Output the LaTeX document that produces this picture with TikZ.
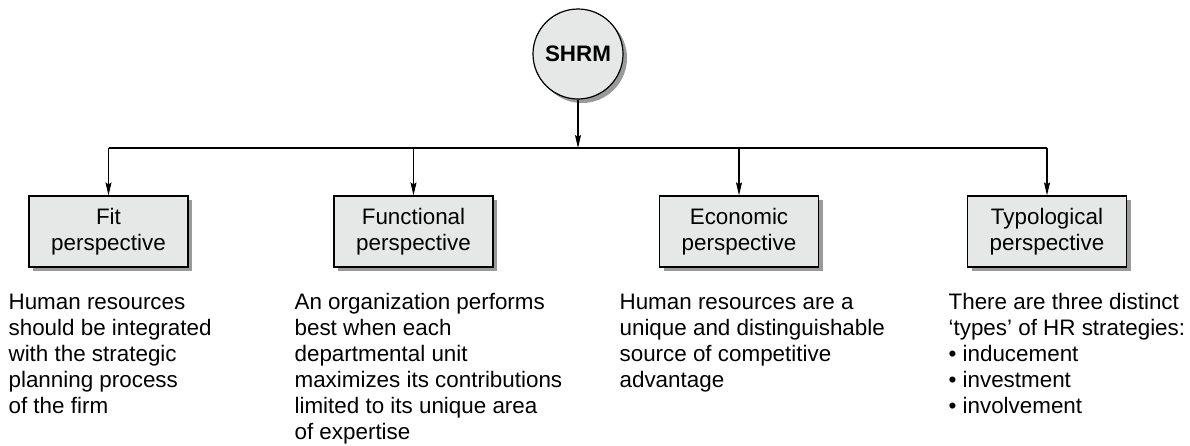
\documentclass[tikz,border=0pt]{standalone}
\usepackage{fontspec}
\setmainfont{Liberation Sans}
\usetikzlibrary{arrows.meta,shadows}
\definecolor{boxgray}{HTML}{E6E7E7}
\definecolor{shadowgray}{HTML}{9A9A9A}

\begin{document}
\begin{tikzpicture}
         [x=1pt,y=-1pt,line width=1.2pt,
          every node/.style={font=\fontsize{22.4}{26}\selectfont},
          shadowed/.style={drop shadow={shadow xshift=4pt,shadow yshift=-4pt,fill=shadowgray,opacity=1}},
          perspective/.style={draw,fill=boxgray,shadowed,minimum width=159pt,minimum height=71pt,align=center,inner sep=0pt},
          hub/.style={circle,draw,fill=boxgray,shadowed,minimum size=90pt,inner sep=0pt,font=\fontsize{22.4}{26}\selectfont\bfseries},
          note/.style={anchor=north west,align=left,inner sep=0pt},
          link/.style={-{Stealth[length=13pt,width=6pt,inset=2pt]}}]
         \useasboundingbox (0,0) rectangle (1190,445);

         \node[hub] (nSHRM) at (578,54) {SHRM};
         \coordinate (cBar) at (578,148);

         \node[perspective] (nFit) at (108.5,231.5) {Fit\\perspective};
         \node[perspective] (nFunctional) at (413.5,231.5) {Functional\\perspective};
         \node[perspective] (nEconomic) at (739,231.5) {Economic\\perspective};
         \node[perspective] (nTypological) at (1047,231.5) {Typological\\perspective};

         \node[note] (tFit) at (8,293) {Human resources\\should be integrated\\with the strategic\\planning process\\of the firm};
         \node[note] (tFunctional) at (294,293) {An organization performs\\best when each\\departmental unit\\maximizes its contributions\\limited to its unique area\\of expertise};
         \node[note] (tEconomic) at (619,293) {Human resources are a\\unique and distinguishable\\source of competitive\\advantage};
         \node[note] (tTypological) at (948,293) {There are three distinct\\‘types’ of HR strategies:\\\textbullet\ inducement\\\textbullet\ investment\\\textbullet\ involvement};

         \draw[link] (nSHRM) -- (cBar);
         \draw (nFit.north |- cBar) -- (nTypological.north |- cBar);
         \foreach \to in {nFit,nFunctional,nEconomic,nTypological}
             \draw[link] (\to.north |- cBar) -- (\to);

     \end{tikzpicture}
\end{document}
